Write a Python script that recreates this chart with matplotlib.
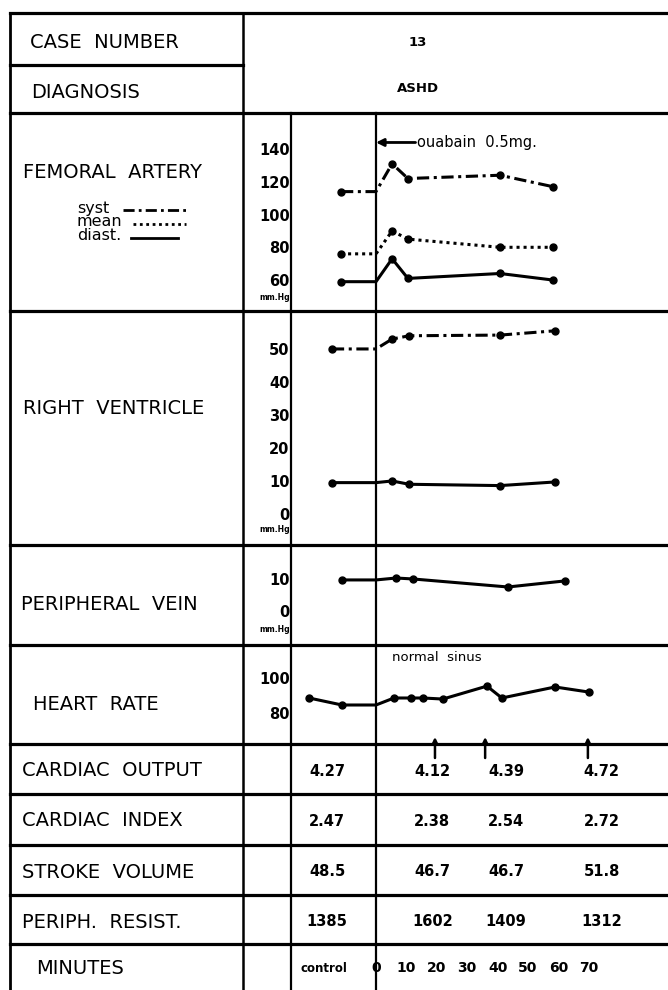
import matplotlib
matplotlib.use("Agg")
import matplotlib.pyplot as plt

W, H = 668, 990          # figure size in pixels
T0_PX = 376              # pixel column of minute 0
PX_PER_MIN = 3.04
AXIS_PX = 291            # left edge of plotting area

# femoral artery, mm Hg
fa_t = [-11.5, 0, 5.3, 10.5, 40.8, 58.2]
fa_syst = [114, 114, 131, 122, 124, 117]
fa_mean = [76, 76, 90, 85, 80, 80]
fa_diast = [59, 59, 73, 61, 64, 60]

# right ventricle, mm Hg
rv_t = [-14.5, 0, 5.3, 10.9, 40.8, 58.9]
rv_syst = [50, 50, 53, 54, 54.2, 55.5]
rv_diast = [9.5, 9.5, 10, 9, 8.6, 9.7]

# peripheral vein, mm Hg
pv_t = [-11.2, 0, 6.6, 12.2, 43.4, 62.2]
pv = [9.7, 9.7, 10.3, 10, 7.5, 9.4]

# heart rate, beats/min
hr_t = [-22, -11.2, 0, 5.9, 11.5, 15.5, 22, 36.5, 41.4, 58.9, 70]
hr = [88.6, 84.6, 84.6, 88.6, 88.6, 88.6, 88, 95.4, 88.6, 94.9, 92]

# lower table
col_t = [-16.1, 18.5, 42.8, 74.2]
cardiac_output = [4.27, 4.12, 4.39, 4.72]
cardiac_index = [2.47, 2.38, 2.54, 2.72]
stroke_volume = [48.5, 46.7, 46.7, 51.8]
periph_resist = [1385, 1602, 1409, 1312]
co_arrow_t = [19.4, 35.9, 69.7]

minute_ticks = [-17, 0, 10, 20, 30, 40, 50, 60, 70]
minute_labels = ["control", "0", "10", "20", "30", "40", "50", "60", "70"]

SYST = (4, 1.5, 1, 1.5)
MEAN = (1, 1.3)
plt.rcParams["font.family"] = ["DejaVu Sans"]

fig = plt.figure(figsize=(W / 100, H / 100), dpi=100)

# background frame in pixel units
frame = fig.add_axes([0, 0, 1, 1])
frame.set_xlim(0, W)
frame.set_ylim(H, 0)
frame.axis("off")

tmin = (AXIS_PX - T0_PX) / PX_PER_MIN
tmax = (W - T0_PX) / PX_PER_MIN


def add_panel(top, bottom, ylo, yhi, ticks):
    ax = fig.add_axes([AXIS_PX / W, 1 - bottom / H, (W - AXIS_PX) / W, (bottom - top) / H])
    ax.set_xlim(tmin, tmax)
    ax.set_ylim(ylo, yhi)
    ax.patch.set_visible(False)
    for s in ax.spines.values():
        s.set_visible(False)
    ax.set_xticks([])
    ax.set_yticks(ticks)
    ax.set_yticklabels([str(v) for v in ticks], fontweight="bold")
    ax.tick_params(axis="y", length=0, pad=1, labelsize=10.5)
    return ax


def trace(ax, t, v, dashes=None):
    marks = [i for i, x in enumerate(t) if x != 0]
    ln, = ax.plot(t, v, color="black", lw=2.2, marker="o", ms=5, markevery=marks,
                  solid_capstyle="round")
    if dashes:
        ln.set_dashes(dashes)
    return ln


# ---- grid lines
hlines = [13, 113, 311, 545, 645, 744, 794, 845, 895, 944]
for y in hlines:
    frame.plot([10, W], [y, y], color="black", lw=2.3)
frame.plot([10, 243], [65, 65], color="black", lw=2.3)
frame.plot([10, 10], [13, H], color="black", lw=2.0)
frame.plot([243, 243], [13, H], color="black", lw=1.8)
frame.plot([AXIS_PX, AXIS_PX], [113, H], color="black", lw=1.6)
frame.plot([T0_PX, T0_PX], [113, H], color="black", lw=1.6)

# ---- row labels
labels = [
    ("CASE  NUMBER", 30, 43), ("DIAGNOSIS", 31, 92), ("FEMORAL  ARTERY", 23, 173),
    ("RIGHT  VENTRICLE", 23, 408), ("PERIPHERAL  VEIN", 21, 605), ("HEART  RATE", 33, 704),
    ("CARDIAC  OUTPUT", 22, 771), ("CARDIAC  INDEX", 22, 821), ("STROKE  VOLUME", 22, 872),
    ("PERIPH.  RESIST.", 22, 922), ("MINUTES", 36, 968),
]
for txt, x, y in labels:
    frame.text(x, y, txt, fontsize=14, ha="left", va="center")

frame.text(418, 43, "13", fontsize=9.5, ha="center", va="center", fontweight="bold")
frame.text(418, 88, "ASHD", fontsize=9.5, ha="center", va="center", fontweight="bold")

# legend of femoral traces
for name, y, x0, x1, d in [("syst", 208, 123, 186, SYST), ("mean", 222, 133, 186, MEAN),
                            ("diast.", 236, 131, 178, None)]:
    frame.text(77, y, name, fontsize=11.5, ha="left", va="center")
    ln, = frame.plot([x0, x1], [y + 2, y + 2], color="black", lw=2)
    if d:
        ln.set_dashes(d)

for y in [298, 530, 630]:
    frame.text(AXIS_PX - 1, y, "mm.Hg", fontsize=5.5, fontweight="bold", ha="right", va="center")

# ---- femoral artery
ax_fa = add_panel(113, 311, 41.1, 162, [140, 120, 100, 80, 60])
trace(ax_fa, fa_t, fa_syst, SYST)
trace(ax_fa, fa_t, fa_mean, MEAN)
trace(ax_fa, fa_t, fa_diast)
ax_fa.annotate("", xy=(0, 144), xytext=(13, 144),
               arrowprops=dict(arrowstyle="-|>", lw=2, color="black", mutation_scale=11,
                               shrinkA=0, shrinkB=0))
ax_fa.text(13.4, 144, "ouabain  0.5mg.", fontsize=10.5, ha="left", va="center")

# ---- right ventricle
ax_rv = add_panel(311, 545, -9.4, 61.5, [50, 40, 30, 20, 10, 0])
trace(ax_rv, rv_t, rv_syst, SYST)
trace(ax_rv, rv_t, rv_diast)

# ---- peripheral vein
ax_pv = add_panel(545, 645, -10.6, 20.6, [10, 0])
trace(ax_pv, pv_t, pv)

# ---- heart rate
ax_hr = add_panel(645, 744, 62.3, 118.9, [100, 80])
trace(ax_hr, hr_t, hr)
ax_hr.text(5.3, 112, "normal  sinus", fontsize=9.5, ha="left", va="center")

# ---- table
tab = fig.add_axes([AXIS_PX / W, 0, (W - AXIS_PX) / W, 1])
tab.set_xlim(tmin, tmax)
tab.set_ylim(H, 0)
tab.axis("off")

rows = [(cardiac_output, "{:.2f}", 771), (cardiac_index, "{:.2f}", 821),
        (stroke_volume, "{:.1f}", 872), (periph_resist, "{:d}", 922)]
for vals, fmt, y in rows:
    for t, v in zip(col_t, vals):
        tab.text(t, y, fmt.format(v), fontsize=10.5, ha="center", va="center",
                 fontweight="bold")

for t in co_arrow_t:
    tab.annotate("", xy=(t, 737), xytext=(t, 758),
                 arrowprops=dict(arrowstyle="-|>", lw=1.8, color="black", mutation_scale=8,
                                 shrinkA=0, shrinkB=0))

for t, lab in zip(minute_ticks, minute_labels):
    tab.text(t, 968, lab, fontsize=8.5 if lab == "control" else 10, ha="center",
             va="center", fontweight="bold")

fig.savefig("out.png", dpi=100)
